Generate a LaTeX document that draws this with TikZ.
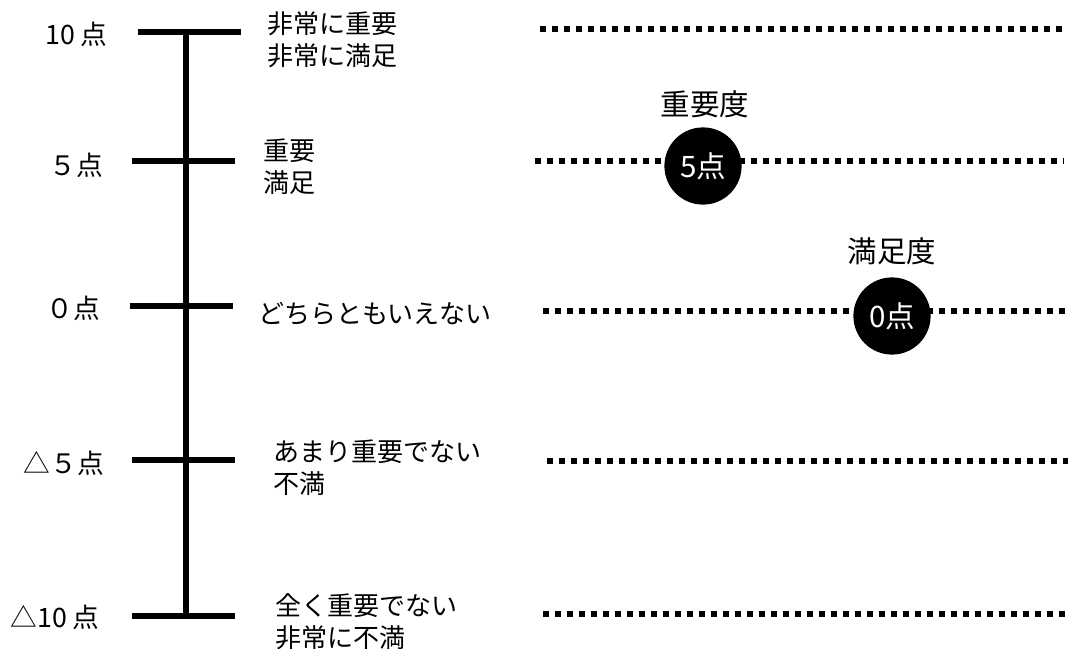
\documentclass[tikz,border=0pt]{standalone}
\usepackage{fontspec}
\setmainfont{Noto Sans CJK JP}
\usetikzlibrary{positioning}

\tikzset{
  bar/.style={line width=1.6mm},
  dotline/.style={line width=1.5mm, dash pattern=on 1.5mm off 1.5mm},
  lbl/.style={font=\fontsize{18.5}{23}\selectfont, align=left, inner sep=0pt},
  pt/.style={font=\fontsize{19}{22}\selectfont, inner sep=0pt},
  score/.style={circle, fill=black, text=white, minimum size=1.93cm, inner sep=0pt, font=\fontsize{21}{24}\selectfont},
  head/.style={font=\fontsize{21}{24}\selectfont, inner sep=0pt},
}

\begin{document}
\begin{tikzpicture}[x=0.025cm, y=-0.025cm]
		%%%%% START %%%%%
		\useasboundingbox (0,0) rectangle (1073,649);
		
		% scale
		\coordinate (a10) at (186,32);
		\coordinate (am10) at (186,616);
		\draw[bar] (a10) -- (am10);
		
		\coordinate (t10l) at (138,32);   \coordinate (t10r) at (241,32);
		\coordinate (t5l) at (132,161);   \coordinate (t5r) at (235,161);
		\coordinate (t0l) at (130,306);   \coordinate (t0r) at (233,306);
		\coordinate (tm5l) at (132,460);  \coordinate (tm5r) at (235,460);
		\coordinate (tm10l) at (132,616); \coordinate (tm10r) at (235,616);
		\draw[bar] (t10l) -- (t10r);
		\draw[bar] (t5l) -- (t5r);
		\draw[bar] (t0l) -- (t0r);
		\draw[bar] (tm5l) -- (tm5r);
		\draw[bar] (tm10l) -- (tm10r);
		
		\node[pt, anchor=east] (l10) at (108,34) {10 点};
		\node[pt, anchor=east] (l5) at (103,165) {５点};
		\node[pt, anchor=east] (l0) at (100,308) {０点};
		\node[pt, anchor=east] (lm5) at (104,463) {△５点};
		\node[pt, anchor=east] (lm10) at (100,617) {△10 点};
		
		\node[lbl, anchor=west] (r10) at (267,40) {非常に重要\\非常に満足};
		\node[lbl, anchor=west] (r5) at (263,167) {重要\\満足};
		\node[lbl, anchor=west] (r0) at (258,314) {どちらともいえない};
		\node[lbl, anchor=west] (rm5) at (273,468) {あまり重要でない\\不満};
		\node[lbl, anchor=west] (rm10) at (275,622) {全く重要でない\\非常に不満};
		
		% dotted rows
		\coordinate (d10a) at (540,29);  \coordinate (d10b) at (1068,29);
		\coordinate (d5a) at (535,161);  \coordinate (d5b) at (1064,161);
		\coordinate (d0a) at (543,311);  \coordinate (d0b) at (1070,311);
		\coordinate (dm5a) at (547,461); \coordinate (dm5b) at (1068,461);
		\coordinate (dm10a) at (543,614); \coordinate (dm10b) at (1068,614);
		\draw[dotline] (d10a) -- (d10b);
		\draw[dotline] (d5a) -- (d5b);
		\draw[dotline] (d0a) -- (d0b);
		\draw[dotline] (dm5a) -- (dm5b);
		\draw[dotline] (dm10a) -- (dm10b);
		
		\node[score] (imp) at (703,166) {5点};
		\node[head] (impT) at (705,104) {重要度};
		\node[score] (sat) at (892,316) {0点};
		\node[head] (satT) at (892,251) {満足度};
		
		%%%%% END %%%%%
\end{tikzpicture}
\end{document}
